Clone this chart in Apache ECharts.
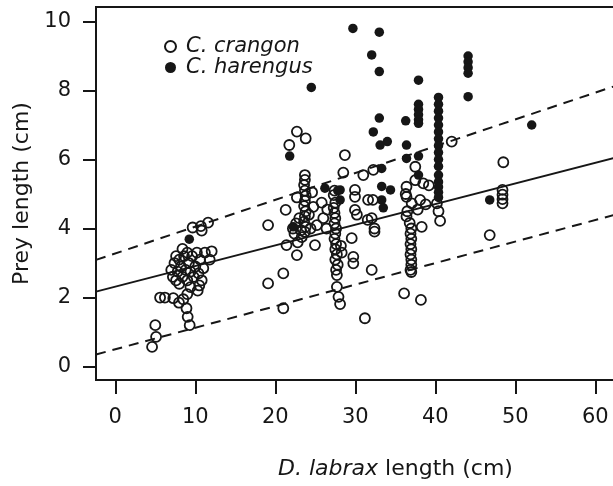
<!DOCTYPE html>
<html>
<head>
<meta charset="utf-8">
<script src="https://cdn.jsdelivr.net/npm/echarts@6/dist/echarts.min.js"></script>
<style>
  html, body { margin: 0; padding: 0; background: #fff; }
  #chart { width: 613px; height: 486px; }
</style>
</head>
<body>
<div id="chart"></div>
<script>
const xTicks = [0, 10, 20, 30, 40, 50, 60]
const yTicks = [0, 2, 4, 6, 8, 10]

// open circles, [D. labrax length, prey length]
const crangon = [
  [4.6, 0.57], [5.1, 0.86], [5.0, 1.2], [5.6, 2.0], [6.2, 2.0], [7.25, 1.98], [7.96, 1.85],
  [8.5, 1.95], [9.0, 2.1], [9.4, 2.3], [8.9, 1.69], [9.05, 1.44], [9.3, 1.2], [10.3, 2.2],
  [9.67, 4.03], [10.7, 4.07], [10.8, 3.94], [11.6, 4.17], [8.4, 3.41], [12.05, 3.34], [11.8, 3.1],
  [7.0, 2.8], [7.2, 2.6], [7.4, 3.0], [7.6, 2.5], [7.8, 2.75], [8.0, 3.1], [8.2, 2.9],
  [8.4, 2.6], [8.6, 3.2], [8.8, 2.8], [9.0, 2.5], [9.2, 3.0], [9.4, 2.75], [9.6, 3.2],
  [9.8, 2.6], [10.0, 2.9], [10.2, 3.3], [10.4, 2.7], [10.6, 3.1], [10.8, 2.5], [11.0, 2.85],
  [9.0, 3.3], [8.0, 2.4], [7.6, 3.2], [10.5, 2.35], [11.2, 3.3],
  [19.1, 4.1], [19.1, 2.41], [21.0, 2.7], [21.0, 1.69], [21.3, 4.54], [21.75, 6.42], [22.7, 6.81],
  [23.8, 6.61], [22.7, 4.9], [21.4, 3.52], [22.7, 3.23], [24.75, 4.63], [25.2, 4.1], [24.96, 3.52],
  [23.7, 5.55], [23.7, 5.41], [23.6, 5.26], [23.7, 5.1], [23.8, 4.95], [23.7, 4.8], [23.6, 4.65],
  [23.8, 4.5], [23.7, 4.35], [23.6, 4.2], [23.8, 4.05], [23.7, 3.9],
  [22.4, 3.85], [22.6, 4.15], [23.0, 4.3], [23.2, 3.95], [24.2, 4.4], [24.4, 4.0], [22.8, 3.6],
  [23.3, 3.75], [26.0, 4.3], [26.5, 4.55], [26.4, 4.0], [25.8, 4.75], [22.2, 4.0], [24.6, 5.05],
  [27.4, 5.1], [27.3, 4.97], [27.5, 4.75], [27.3, 4.6], [27.4, 4.45], [27.5, 4.3], [27.4, 4.15],
  [27.6, 4.0], [27.5, 3.85], [27.4, 3.7], [27.6, 3.55], [27.5, 3.4], [27.7, 3.25], [27.5, 3.1],
  [27.8, 2.95], [27.6, 2.8], [27.7, 2.65], [27.7, 2.31], [27.9, 2.02], [28.1, 1.81], [28.2, 3.5],
  [28.3, 3.3],
  [28.7, 6.13], [28.5, 5.62], [29.96, 5.12], [29.96, 4.92], [29.96, 4.54], [30.2, 4.4], [29.55, 3.72],
  [29.75, 3.18], [29.75, 2.99], [31.0, 5.55], [32.25, 5.7], [31.6, 4.83], [32.2, 4.83], [31.55, 4.25],
  [32.05, 4.3], [32.4, 4.0], [32.4, 3.91], [32.05, 2.8], [31.2, 1.4],
  [37.5, 5.79], [37.5, 5.4], [38.5, 5.31], [38.1, 4.83], [36.4, 5.21], [36.4, 4.92], [37.05, 4.73],
  [40.2, 4.73], [40.6, 4.22], [38.3, 4.05], [42.05, 6.52], [36.1, 2.12], [38.2, 1.93],
  [36.8, 4.16], [37.0, 4.0], [36.9, 3.85], [37.0, 3.7], [36.9, 3.55], [37.0, 3.4], [36.9, 3.25],
  [37.0, 3.1], [37.0, 2.95], [36.9, 2.8], [37.0, 2.74], [36.5, 4.5], [36.4, 4.35],
  [37.8, 4.55], [38.8, 4.7], [39.2, 5.25], [36.3, 5.0], [40.4, 4.5],
  [46.8, 3.81], [48.5, 5.92], [48.4, 5.12], [48.4, 4.98], [48.4, 4.85], [48.4, 4.73]
]

// filled circles
const harengus = [
  [9.25, 3.69], [21.8, 6.1], [22.25, 4.05], [24.5, 8.09], [26.2, 5.17], [27.8, 5.1], [28.1, 5.12],
  [28.1, 4.83], [29.7, 9.8], [33.0, 9.69], [32.05, 9.03], [33.0, 8.55], [33.0, 7.2], [32.25, 6.8],
  [33.1, 6.42], [34.0, 6.52], [33.3, 5.74], [33.3, 5.22], [34.4, 5.12], [33.3, 4.83], [33.5, 4.6],
  [36.3, 7.12], [36.4, 6.42], [36.4, 6.03], [37.9, 6.1], [37.9, 8.3], [37.9, 7.6], [37.9, 7.45],
  [37.9, 7.3], [37.9, 7.15], [37.9, 7.05], [37.9, 5.55],
  [40.4, 7.8], [40.4, 7.6], [40.4, 7.4], [40.4, 7.2], [40.4, 7.0], [40.4, 6.8], [40.4, 6.6],
  [40.4, 6.4], [40.4, 6.2], [40.4, 6.0], [40.4, 5.8], [40.4, 5.55], [40.4, 5.35], [40.4, 5.2],
  [40.4, 5.05], [40.4, 4.9],
  [44.1, 9.0], [44.1, 8.83], [44.1, 8.66], [44.1, 8.5], [44.1, 7.82], [46.8, 4.83], [52.05, 7.0]
]

// regression line and the two dashed bounds, read at the plot edges
const lineX = [-2.41, 62.46]
const fitY = [2.17, 6.05]
const upperY = [3.09, 8.13]
const lowerY = [0.35, 4.4]

const ink = '#161616'
const font = 'DejaVu Sans'

const chart = echarts.init(document.getElementById('chart'))

const toPts = (ys) => lineX.map((x, i) => [x, ys[i]])

const lineSeries = (name, ys, type) => ({
  name: name,
  type: 'line',
  data: toPts(ys),
  showSymbol: false,
  silent: true,
  z: 1,
  lineStyle: { color: ink, width: type === 'solid' ? 1.8 : 2, type: type }
})

chart.setOption({
  animation: false,
  grid: {
    left: 96, right: -2, top: 7, bottom: 106,
    show: true, borderColor: ink, borderWidth: 2,
    outerBoundsMode: 'none'
  },
  legend: {
    data: ['C. crangon', 'C. harengus'],
    orient: 'vertical',
    left: 159, top: 31,
    itemWidth: 11, itemHeight: 11, itemGap: 0,
    icon: 'circle',
    textStyle: {
      fontSize: 21, fontStyle: 'italic', fontFamily: font, color: ink,
      lineHeight: 20, padding: [0, 0, 0, 5]
    }
  },
  xAxis: {
    type: 'value',
    min: lineX[0], max: lineX[1],
    name: '{i|D. labrax} length (cm)',
    nameLocation: 'middle',
    nameGap: 78,
    nameTextStyle: {
      fontSize: 22, fontFamily: font, color: ink,
      padding: [0, 0, 0, 80],
      rich: { i: { fontSize: 22, fontFamily: font, fontStyle: 'italic', color: ink } }
    },
    axisLine: { show: true, onZero: false, lineStyle: { color: ink, width: 2 } },
    axisTick: { show: true, inside: false, customValues: xTicks, length: 14, lineStyle: { color: ink, width: 2 } },
    axisLabel: { customValues: xTicks, fontSize: 21, fontFamily: font, color: ink, margin: 27 },
    splitLine: { show: false }
  },
  yAxis: {
    type: 'value',
    min: -0.39, max: 10.42,
    name: 'Prey length (cm)',
    nameLocation: 'middle',
    nameGap: 60,
    nameTextStyle: { fontSize: 22, fontFamily: font, color: ink },
    axisLine: { show: true, onZero: false, lineStyle: { color: ink, width: 2 } },
    axisTick: { show: true, inside: false, customValues: yTicks, length: 13, lineStyle: { color: ink, width: 2 } },
    axisLabel: { customValues: yTicks, fontSize: 21, fontFamily: font, color: ink, margin: 25 },
    splitLine: { show: false }
  },
  series: [
    lineSeries('fit', fitY, 'solid'),
    lineSeries('upper', upperY, [10, 7]),
    lineSeries('lower', lowerY, [10, 7]),
    {
      name: 'C. crangon',
      type: 'scatter',
      data: crangon,
      symbol: 'circle',
      symbolSize: 10,
      z: 2,
      itemStyle: { color: 'rgba(255,255,255,0)', borderColor: ink, borderWidth: 1.8, opacity: 1 }
    },
    {
      name: 'C. harengus',
      type: 'scatter',
      data: harengus,
      symbol: 'circle',
      symbolSize: 9.5,
      z: 3,
      itemStyle: { color: ink, opacity: 1 }
    }
  ]
})
</script>
</body>
</html>
